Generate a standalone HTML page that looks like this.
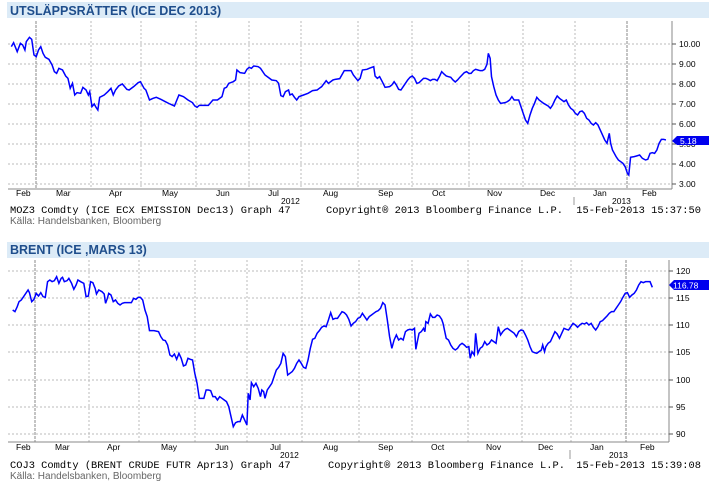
<!DOCTYPE html>
<html><head><meta charset="utf-8"><style>
body{margin:0;background:#fff;width:709px;height:486px;overflow:hidden}
svg{display:block}
.t{font-family:"Liberation Sans",sans-serif;font-weight:bold;font-size:12.5px;fill:#1f4e8c}
.m{font-family:"Liberation Mono",monospace;font-size:10.4px;fill:#000}
.s{font-family:"Liberation Sans",sans-serif;font-size:10px;fill:#666}
.a{font-family:"Liberation Sans",sans-serif;font-size:8.5px;fill:#000}
.g{stroke:#bbb;stroke-width:1;stroke-dasharray:2,2}
.k{stroke:#888;stroke-width:1;stroke-dasharray:3,1}
.ln{fill:none;stroke:#0000ff;stroke-width:1.5;vector-effect:non-scaling-stroke}
</style></head><body>
<svg width="709" height="486" xmlns="http://www.w3.org/2000/svg">
<!-- Chart 1 -->
<rect x="7" y="2" width="702" height="16" fill="#dcebf7"/>
<text x="10" y="15" class="t">UTSLÄPPSRÄTTER (ICE DEC 2013)</text>
<g>
<line class="g" x1="8" x2="672" y1="44" y2="44"/><line class="g" x1="8" x2="672" y1="64" y2="64"/>
<line class="g" x1="8" x2="672" y1="84" y2="84"/><line class="g" x1="8" x2="672" y1="104" y2="104"/>
<line class="g" x1="8" x2="672" y1="124" y2="124"/><line class="g" x1="8" x2="672" y1="144" y2="144"/>
<line class="g" x1="8" x2="672" y1="164" y2="164"/><line class="g" x1="8" x2="672" y1="184" y2="184"/>
<g class="g">
<line x1="91" x2="91" y1="21" y2="189"/><line x1="141" x2="141" y1="21" y2="189"/><line x1="196" x2="196" y1="21" y2="189"/><line x1="249" x2="249" y1="21" y2="189"/><line x1="301" x2="301" y1="21" y2="189"/><line x1="358" x2="358" y1="21" y2="189"/><line x1="412" x2="412" y1="21" y2="189"/><line x1="469" x2="469" y1="21" y2="189"/><line x1="523" x2="523" y1="21" y2="189"/><line x1="575" x2="575" y1="21" y2="189"/>
</g>
<line class="k" x1="36" x2="36" y1="21" y2="189"/><line class="k" x1="627" x2="627" y1="21" y2="189"/>
<line x1="8" x2="672" y1="189" y2="189" stroke="#888"/>
<line x1="672" x2="672" y1="21" y2="189" stroke="#888"/>
<g stroke="#555"><line x1="672" x2="676" y1="44" y2="44"/><line x1="672" x2="676" y1="64" y2="64"/><line x1="672" x2="676" y1="84" y2="84"/><line x1="672" x2="676" y1="104" y2="104"/><line x1="672" x2="676" y1="124" y2="124"/><line x1="672" x2="676" y1="144" y2="144"/><line x1="672" x2="676" y1="164" y2="164"/><line x1="672" x2="676" y1="184" y2="184"/></g>
<g class="a"><text x="679" y="47">10.00</text><text x="679" y="67">9.00</text><text x="679" y="87">8.00</text><text x="679" y="107">7.00</text><text x="679" y="127">6.00</text><text x="679" y="147">5.00</text><text x="679" y="167">4.00</text><text x="679" y="187">3.00</text></g>
<polyline class="ln" transform="scale(0.453,0.3333)" points="25,140 30,128 38,155 45,130 50,135 55,150 58,125 65,112 70,118 75,165 80,170 85,150 90,140 95,160 100,172 108,178 115,195 120,215 125,220 130,205 138,210 145,228 150,235 155,265 160,250 165,285 170,278 178,280 183,262 190,270 195,285 198,275 203,320 208,312 212,322 216,330 220,292 230,285 238,275 245,265 250,285 255,270 262,258 270,252 275,260 280,268 285,270 295,260 305,248 310,245 318,265 322,270 330,300 338,295 345,292 355,298 365,305 375,312 385,318 395,285 405,290 415,300 425,308 430,318 435,322 440,316 450,316 460,316 470,300 480,300 490,290 495,265 500,262 505,250 515,245 520,240 523,210 530,218 540,220 545,208 550,202 555,205 560,198 570,200 575,205 585,225 600,240 610,242 615,250 620,287 625,290 630,275 637,270 640,285 645,282 650,292 655,300 660,290 670,285 680,280 690,272 700,270 705,265 710,260 720,242 725,250 735,240 740,238 750,236 760,212 765,212 775,212 780,225 790,242 795,235 800,210 810,208 815,205 825,200 828,228 833,235 838,230 845,248 850,262 860,260 865,255 870,245 875,255 880,268 885,270 890,260 900,240 905,232 910,228 915,235 920,250 925,248 935,235 940,235 945,238 950,242 955,238 960,238 965,242 970,230 975,215 980,222 985,228 990,230 995,232 1000,240 1005,246 1010,240 1015,232 1025,218 1030,215 1035,220 1040,220 1045,212 1050,208 1055,210 1060,212 1065,212 1070,208 1075,193 1078,160 1082,175 1085,230 1090,260 1095,285 1100,300 1105,310 1115,308 1120,305 1125,300 1130,290 1135,300 1145,300 1150,320 1155,340 1160,360 1165,370 1170,345 1175,325 1180,310 1185,292 1190,300 1200,310 1210,318 1215,325 1220,315 1225,300 1230,288 1235,295 1245,305 1250,300 1255,315 1260,325 1265,330 1270,340 1275,345 1280,335 1285,333 1290,340 1295,355 1300,360 1305,370 1310,375 1315,368 1320,375 1325,390 1330,405 1335,420 1340,430 1345,400 1348,430 1352,450 1360,470 1365,480 1375,490 1380,500 1385,520 1388,525 1392,472 1400,470 1405,468 1412,465 1418,475 1425,480 1430,478 1435,460 1440,458 1445,460 1450,450 1455,430 1460,418 1465,418 1470,420"/>
<polygon points="672,141 677,136 709,136 709,145 677,145" fill="#0000ee"/>
<text x="680" y="144" class="a" style="fill:#fff">5.18</text>
<g class="a"><text x="16" y="196">Feb</text><text x="56" y="196">Mar</text><text x="109" y="196">Apr</text><text x="162" y="196">May</text><text x="216" y="196">Jun</text><text x="268" y="196">Jul</text><text x="323" y="196">Aug</text><text x="378" y="196">Sep</text><text x="432" y="196">Oct</text><text x="487" y="196">Nov</text><text x="540" y="196">Dec</text><text x="593" y="196">Jan</text><text x="642" y="196">Feb</text>
<text x="281" y="204">2012</text><text x="612" y="204">2013</text></g>
<line x1="574" x2="574" y1="197" y2="205" stroke="#999"/>
<text x="10" y="213" class="m">MOZ3 Comdty (ICE ECX EMISSION  Dec13) Graph 47</text>
<text x="326" y="213" class="m">Copyright® 2013 Bloomberg Finance L.P.</text>
<text x="701" y="213" class="m" text-anchor="end">15-Feb-2013 15:37:50</text>
<text x="10" y="224" class="s">Källa: Handelsbanken, Bloomberg</text>
</g>
<!-- Chart 2 -->
<rect x="7" y="242" width="702" height="16" fill="#dcebf7"/>
<text x="10" y="254" class="t">BRENT (ICE ,MARS 13)</text>
<g>
<g class="g"><line x1="8" x2="669" y1="271" y2="271"/><line x1="8" x2="669" y1="298" y2="298"/><line x1="8" x2="669" y1="325" y2="325"/><line x1="8" x2="669" y1="352" y2="352"/><line x1="8" x2="669" y1="380" y2="380"/><line x1="8" x2="669" y1="407" y2="407"/><line x1="8" x2="669" y1="434" y2="434"/>
<line x1="89" x2="89" y1="260" y2="442"/><line x1="139" x2="139" y1="260" y2="442"/><line x1="195" x2="195" y1="260" y2="442"/><line x1="247" x2="247" y1="260" y2="442"/><line x1="302" x2="302" y1="260" y2="442"/><line x1="359" x2="359" y1="260" y2="442"/><line x1="412" x2="412" y1="260" y2="442"/><line x1="468" x2="468" y1="260" y2="442"/><line x1="522" x2="522" y1="260" y2="442"/><line x1="571" x2="571" y1="260" y2="442"/></g>
<line class="k" x1="35" x2="35" y1="260" y2="442"/><line class="k" x1="626" x2="626" y1="260" y2="442"/>
<line x1="8" x2="669" y1="442" y2="442" stroke="#888"/><line x1="669" x2="669" y1="260" y2="442" stroke="#888"/>
<g stroke="#555"><line x1="669" x2="673" y1="271" y2="271"/><line x1="669" x2="673" y1="298" y2="298"/><line x1="669" x2="673" y1="325" y2="325"/><line x1="669" x2="673" y1="352" y2="352"/><line x1="669" x2="673" y1="380" y2="380"/><line x1="669" x2="673" y1="407" y2="407"/><line x1="669" x2="673" y1="434" y2="434"/></g>
<g class="a"><text x="676" y="274">120</text><text x="676" y="301">115</text><text x="676" y="328">110</text><text x="676" y="355">105</text><text x="676" y="383">100</text><text x="676" y="410">95</text><text x="676" y="437">90</text></g>
<polyline class="ln" transform="translate(0,240) scale(0.453,0.3333)" points="28,210 33,215 38,200 42,185 47,180 52,170 57,160 62,150 65,158 70,185 75,178 80,160 85,168 90,158 95,170 100,172 105,125 110,120 115,125 120,122 125,110 130,130 135,115 138,112 142,125 148,122 152,115 158,130 163,148 168,135 172,120 178,125 185,130 190,170 195,168 200,125 205,128 210,145 213,162 218,150 225,155 230,162 233,190 237,175 240,160 245,165 250,185 255,180 260,190 265,195 270,190 275,188 280,188 290,188 295,175 300,178 305,172 310,172 315,180 320,210 325,230 330,272 340,272 350,275 355,290 360,300 365,302 370,315 375,345 380,350 385,342 390,358 395,340 400,355 405,378 410,375 415,355 420,358 425,360 430,400 435,430 440,475 445,475 450,475 455,450 460,450 465,452 470,470 475,470 480,480 485,470 490,475 495,480 500,485 505,500 510,530 515,560 520,548 525,545 530,545 535,525 540,540 545,555 548,460 552,480 555,428 560,440 565,430 570,445 575,470 578,450 582,455 585,475 590,450 595,440 600,430 605,410 610,390 615,382 620,370 625,340 630,350 635,405 640,400 645,395 650,385 655,370 660,360 665,370 670,382 675,385 680,360 685,325 690,298 695,295 700,280 705,272 710,262 715,258 720,260 725,240 730,218 735,238 740,235 745,235 750,225 755,215 760,218 765,225 770,238 775,258 780,250 785,245 790,235 795,232 800,220 805,230 810,240 815,230 820,225 825,220 830,215 835,212 840,205 845,188 850,195 855,240 860,290 865,325 870,300 875,285 880,300 885,295 890,300 895,275 900,270 905,268 910,270 915,265 918,328 922,300 925,280 930,275 935,265 938,275 940,245 945,250 950,222 955,232 960,232 965,225 970,228 975,238 978,250 985,295 990,300 995,315 1000,325 1005,330 1010,325 1015,315 1020,310 1025,315 1030,322 1035,320 1038,355 1042,335 1047,345 1050,280 1055,340 1060,325 1065,320 1070,305 1075,315 1080,310 1085,300 1090,305 1095,310 1100,260 1105,285 1110,275 1115,268 1120,265 1125,270 1130,275 1135,280 1140,290 1145,275 1150,270 1155,272 1160,285 1165,300 1170,320 1175,335 1180,338 1185,340 1190,335 1195,330 1198,315 1202,335 1205,320 1210,310 1215,305 1220,290 1225,275 1230,282 1235,295 1240,280 1245,265 1250,268 1255,270 1260,260 1265,250 1270,255 1275,262 1280,255 1285,250 1290,252 1295,248 1300,255 1305,250 1310,262 1315,270 1320,260 1325,245 1330,242 1335,235 1340,228 1345,220 1350,215 1355,215 1360,205 1365,195 1370,185 1375,172 1380,160 1385,158 1390,172 1395,165 1400,160 1405,150 1410,135 1415,125 1420,128 1425,125 1430,125 1435,125 1440,142"/>
<polygon points="669,285 674,280 709,280 709,290 674,290" fill="#0000ee"/>
<text x="673" y="288.5" class="a" style="fill:#fff">116.78</text>
<g class="a"><text x="16" y="450">Feb</text><text x="55" y="450">Mar</text><text x="107" y="450">Apr</text><text x="161" y="450">May</text><text x="215" y="450">Jun</text><text x="270" y="450">Jul</text><text x="323" y="450">Aug</text><text x="378" y="450">Sep</text><text x="431" y="450">Oct</text><text x="486" y="450">Nov</text><text x="538" y="450">Dec</text><text x="590" y="450">Jan</text><text x="640" y="450">Feb</text>
<text x="280" y="458">2012</text><text x="609" y="458">2013</text></g>
<line x1="570" x2="570" y1="450" y2="459" stroke="#999"/>
<text x="10" y="468" class="m">COJ3 Comdty (BRENT CRUDE FUTR  Apr13) Graph 47</text>
<text x="328" y="468" class="m">Copyright® 2013 Bloomberg Finance L.P.</text>
<text x="701" y="468" class="m" text-anchor="end">15-Feb-2013 15:39:08</text>
<text x="10" y="479" class="s">Källa: Handelsbanken, Bloomberg</text>
</g>
</svg>
</body></html>
